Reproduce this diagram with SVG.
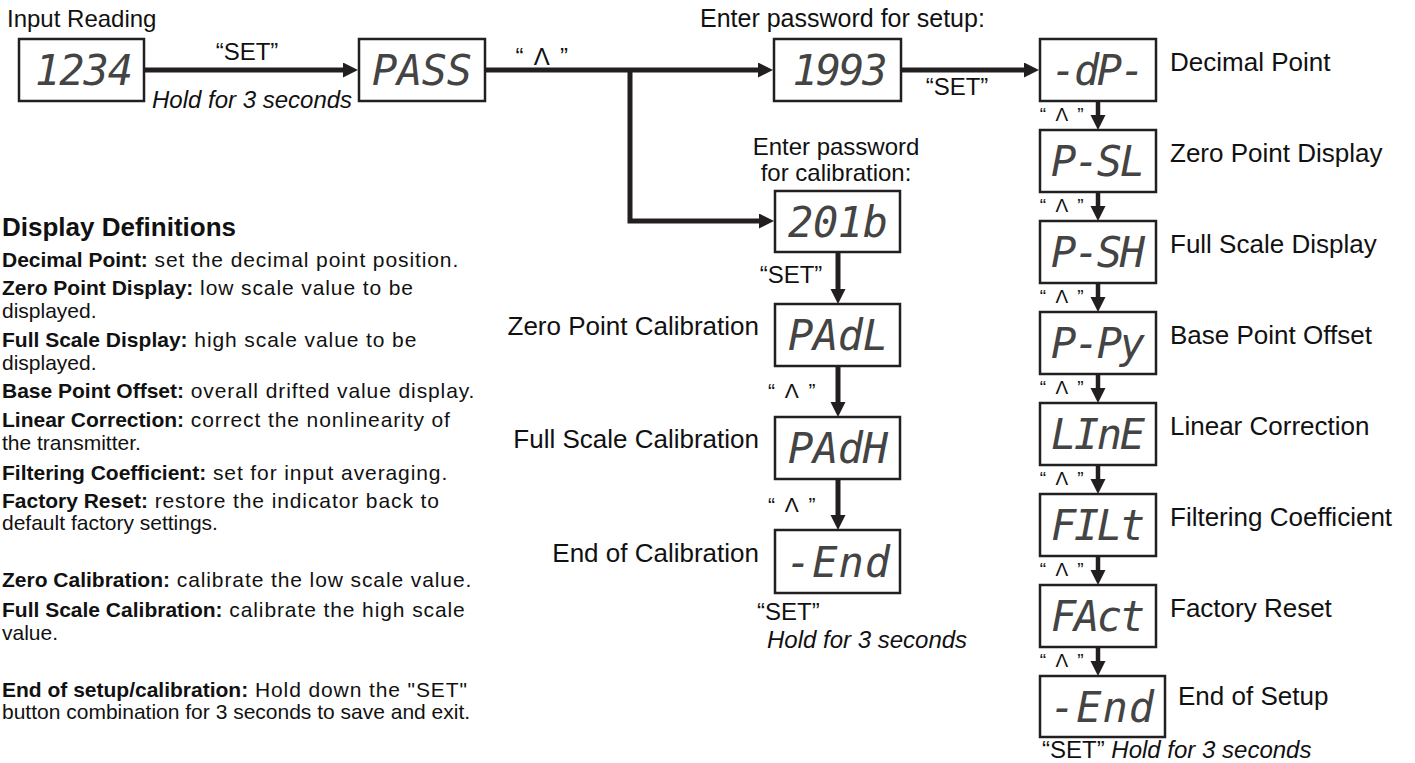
<svg xmlns="http://www.w3.org/2000/svg" width="1415" height="763" viewBox="0 0 1415 763">
<style>
.bg{fill:#fff}
.box{fill:#fff;stroke:#231f20;stroke-width:2.5}
.seg{font-family:"DejaVu Sans Mono","Liberation Mono",monospace;font-style:oblique;font-size:42px;fill:#444;text-anchor:middle}
.conn{stroke:#231f20;stroke-width:5;fill:none}
.conn2{stroke:#231f20;stroke-width:4.5;fill:none}
.t{font-family:"Liberation Sans",Arial,sans-serif;fill:#111}
.s24{font-size:24px}
.s25{font-size:25px}
.s26{font-size:26px}
.s20{font-size:21px}
.s18{font-size:19px}
.it{font-style:italic}
.mid{text-anchor:middle}
.end{text-anchor:end}
.up{letter-spacing:2.5px}
.def{font-family:"Liberation Sans",Arial,sans-serif;font-size:21px;fill:#111}
.def .b{font-weight:bold}
.def .n{letter-spacing:0.9px}
</style>
<defs>
<marker id="ah" markerUnits="userSpaceOnUse" markerWidth="16" markerHeight="16" refX="1" refY="7.5" orient="auto">
<path d="M0,0 L15,7.5 L0,15 z" fill="#231f20"/>
</marker>
</defs>
<rect class="bg" x="0" y="0" width="1415" height="763"/>

<g id="connectors">
<line class="conn" x1="144" y1="70" x2="344" y2="70" marker-end="url(#ah)"/>
<line class="conn" x1="485" y1="70" x2="759" y2="70" marker-end="url(#ah)"/>
<path class="conn" d="M630,70 V221 H760" marker-end="url(#ah)"/>
<line class="conn" x1="901" y1="70" x2="1025" y2="70" marker-end="url(#ah)"/>
<line class="conn" x1="838" y1="252" x2="838" y2="290" marker-end="url(#ah)"/>
<line class="conn" x1="838" y1="366" x2="838" y2="403" marker-end="url(#ah)"/>
<line class="conn" x1="838" y1="479" x2="838" y2="516" marker-end="url(#ah)"/>
<line class="conn2" x1="1098" y1="101" x2="1098" y2="116" marker-end="url(#ah)"/>
<line class="conn2" x1="1098" y1="192" x2="1098" y2="207" marker-end="url(#ah)"/>
<line class="conn2" x1="1098" y1="283" x2="1098" y2="298" marker-end="url(#ah)"/>
<line class="conn2" x1="1098" y1="374" x2="1098" y2="389" marker-end="url(#ah)"/>
<line class="conn2" x1="1098" y1="465" x2="1098" y2="480" marker-end="url(#ah)"/>
<line class="conn2" x1="1098" y1="556" x2="1098" y2="571" marker-end="url(#ah)"/>
<line class="conn2" x1="1098" y1="647" x2="1098" y2="662" marker-end="url(#ah)"/>
</g>

<g id="edge-labels">
<text class="t s24 mid" x="247" y="60">“SET”</text>
<text class="t s24 it" x="152" y="108">Hold for 3 seconds</text>
<text class="t s24 mid up" x="543" y="65">“ Λ ”</text>
<text class="t s24 mid" x="957" y="95">“SET”</text>
<text class="t s24 mid" x="791" y="283">“SET”</text>
<text class="t s20 mid up" x="793" y="398">“ Λ ”</text>
<text class="t s20 mid up" x="793" y="512">“ Λ ”</text>
<text class="t s24" x="757" y="620">“SET”</text>
<text class="t s24 it" x="767" y="648">Hold for 3 seconds</text>
<text class="t s18 mid up" x="1063" y="121">“ Λ ”</text>
<text class="t s18 mid up" x="1063" y="212">“ Λ ”</text>
<text class="t s18 mid up" x="1063" y="303">“ Λ ”</text>
<text class="t s18 mid up" x="1063" y="394">“ Λ ”</text>
<text class="t s18 mid up" x="1063" y="485">“ Λ ”</text>
<text class="t s18 mid up" x="1063" y="576">“ Λ ”</text>
<text class="t s18 mid up" x="1063" y="667">“ Λ ”</text>
<text class="t s24" x="1042" y="758">“SET” <tspan class="it">Hold for 3 seconds</tspan></text>
</g>

<g id="n-input">
<text class="t s24" x="7" y="27">Input Reading</text>
<rect class="box" x="19" y="39" width="125" height="62"/>
<text class="seg" x="84" y="85" textLength="98" lengthAdjust="spacing">1234</text>
</g>
<g id="n-pass">
<rect class="box" x="359" y="39" width="126" height="62"/>
<text class="seg" x="422" y="85" textLength="100" lengthAdjust="spacing">PASS</text>
</g>
<g id="n-1993">
<text class="t s25" x="700" y="27">Enter password for setup:</text>
<rect class="box" x="774" y="39" width="127" height="62"/>
<text class="seg" x="840" y="85" textLength="95" lengthAdjust="spacing">1993</text>
</g>
<g id="n-201b">
<text class="t s24 mid" x="836" y="155">Enter password</text>
<text class="t s24 mid" x="836" y="181">for calibration:</text>
<rect class="box" x="775" y="191" width="125" height="61"/>
<text class="seg" x="838" y="237" textLength="100" lengthAdjust="spacing">201b</text>
</g>
<g id="n-padl">
<text class="t s26 end" x="759" y="335">Zero Point Calibration</text>
<rect class="box" x="775" y="304" width="125" height="62"/>
<text class="seg" x="838" y="350" textLength="100" lengthAdjust="spacing">PAdL</text>
</g>
<g id="n-padh">
<text class="t s26 end" x="759" y="448">Full Scale Calibration</text>
<rect class="box" x="775" y="417" width="125" height="62"/>
<text class="seg" x="838" y="463" textLength="100" lengthAdjust="spacing">PAdH</text>
</g>
<g id="n-endcal">
<text class="t s26 end" x="759" y="562">End of Calibration</text>
<rect class="box" x="775" y="530" width="125" height="63"/>
<text class="seg" x="838" y="577" textLength="104" lengthAdjust="spacing">-End</text>
</g>

<g id="n-dp">
<rect class="box" x="1040" y="39" width="116" height="62"/>
<text class="seg" x="1098" y="85" textLength="94" lengthAdjust="spacing">-dP-</text>
<text class="t s26" x="1170" y="71">Decimal Point</text>
</g>
<g id="n-psl">
<rect class="box" x="1040" y="130" width="116" height="62"/>
<text class="seg" x="1098" y="176" textLength="94" lengthAdjust="spacing">P-SL</text>
<text class="t s26" x="1170" y="162">Zero Point Display</text>
</g>
<g id="n-psh">
<rect class="box" x="1040" y="221" width="116" height="62"/>
<text class="seg" x="1098" y="267" textLength="94" lengthAdjust="spacing">P-SH</text>
<text class="t s26" x="1170" y="253">Full Scale Display</text>
</g>
<g id="n-ppy">
<rect class="box" x="1040" y="312" width="116" height="62"/>
<text class="seg" x="1098" y="358" textLength="94" lengthAdjust="spacing">P-Py</text>
<text class="t s26" x="1170" y="344">Base Point Offset</text>
</g>
<g id="n-line">
<rect class="box" x="1040" y="403" width="116" height="62"/>
<text class="seg" x="1098" y="449" textLength="94" lengthAdjust="spacing">LInE</text>
<text class="t s26" x="1170" y="435">Linear Correction</text>
</g>
<g id="n-filt">
<rect class="box" x="1040" y="494" width="116" height="62"/>
<text class="seg" x="1098" y="540" textLength="94" lengthAdjust="spacing">FILt</text>
<text class="t s26" x="1170" y="526">Filtering Coefficient</text>
</g>
<g id="n-fact">
<rect class="box" x="1040" y="585" width="116" height="62"/>
<text class="seg" x="1098" y="631" textLength="94" lengthAdjust="spacing">FAct</text>
<text class="t s26" x="1170" y="617">Factory Reset</text>
</g>
<g id="n-endsetup">
<rect class="box" x="1040" y="676" width="125" height="61"/>
<text class="seg" x="1102" y="722" textLength="104" lengthAdjust="spacing">-End</text>
<text class="t s26" x="1178" y="705">End of Setup</text>
</g>

<g id="definitions">
<text class="t" x="2" y="236" style="font-size:26px;font-weight:bold">Display Definitions</text>
<text class="def" x="2" y="267"><tspan class="b">Decimal Point:</tspan><tspan class="n"> set the decimal point position.</tspan></text>
<text class="def" x="2" y="295"><tspan class="b">Zero Point Display:</tspan><tspan class="n"> low scale value to be</tspan></text>
<text class="def n" x="2" y="318">displayed.</text>
<text class="def" x="2" y="347"><tspan class="b">Full Scale Display:</tspan><tspan class="n"> high scale value to be</tspan></text>
<text class="def n" x="2" y="370">displayed.</text>
<text class="def" x="2" y="398"><tspan class="b">Base Point Offset:</tspan><tspan class="n"> overall drifted value display.</tspan></text>
<text class="def" x="2" y="427"><tspan class="b">Linear Correction:</tspan><tspan class="n"> correct the nonlinearity of</tspan></text>
<text class="def n" x="2" y="450">the transmitter.</text>
<text class="def" x="2" y="480"><tspan class="b">Filtering Coefficient:</tspan><tspan class="n"> set for input averaging.</tspan></text>
<text class="def" x="2" y="508"><tspan class="b">Factory Reset:</tspan><tspan class="n"> restore the indicator back to</tspan></text>
<text class="def n" x="2" y="530">default factory settings.</text>
<text class="def" x="2" y="587"><tspan class="b">Zero Calibration:</tspan><tspan class="n"> calibrate the low scale value.</tspan></text>
<text class="def" x="2" y="617"><tspan class="b">Full Scale Calibration:</tspan><tspan class="n"> calibrate the high scale</tspan></text>
<text class="def n" x="2" y="640">value.</text>
<text class="def" x="2" y="697"><tspan class="b">End of setup/calibration:</tspan><tspan class="n"> Hold down the "SET"</tspan></text>
<text class="def n" x="2" y="719">button combination for 3 seconds to save and exit.</text>
</g>
</svg>
